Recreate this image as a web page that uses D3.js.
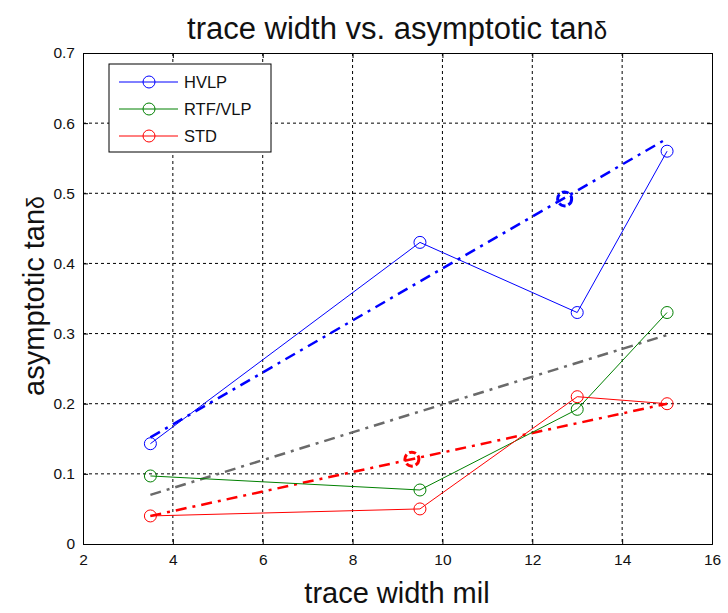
<!DOCTYPE html>
<html><head><meta charset="utf-8">
<script src="https://cdn.jsdelivr.net/npm/d3@7"></script>
<style>body{margin:0;background:#fff}svg{display:block}text{font-family:"Liberation Sans",Arial,sans-serif}</style>
</head><body><svg id="c" width="728" height="613"></svg>
<script>
const seriesNames = ["HVLP", "RTF/VLP", "STD"];
const seriesColors = ["#0000ff", "#008000", "#ff0000"];
const widths = [3.5, 9.5, 13, 15];
const hvlp = [0.143, 0.43, 0.33, 0.56];
const rtf = [0.097, 0.077, 0.192, 0.33];
const std = [0.040, 0.050, 0.210, 0.200];
const fitX = [3.5, 15];
const fitHvlp = [0.152, 0.578];
const fitRtf = [0.070, 0.298];
const fitStd = [0.040, 0.200];
const markHvlp = [12.72, 0.492];
const markStd = [9.32, 0.121];
const xTicks = [2, 4, 6, 8, 10, 12, 14, 16];
const yTicks = [0, 0.1, 0.2, 0.3, 0.4, 0.5, 0.6, 0.7];

const svg = d3.select("#c");
const L = 83, R = 712, T = 53, B = 544;
const x = d3.scaleLinear().domain([2, 16]).range([L, R]);
const y = d3.scaleLinear().domain([0, 0.7]).range([B, T]);

// grid
const g = svg.append("g");
g.selectAll(".gx").data(xTicks.slice(1, -1)).enter().append("line")
  .attr("x1", d => x(d)).attr("x2", d => x(d)).attr("y1", T).attr("y2", B)
  .attr("stroke", "#000").attr("stroke-width", 1).attr("stroke-dasharray", "3,3");
g.selectAll(".gy").data(yTicks.slice(1, -1)).enter().append("line")
  .attr("y1", d => y(d)).attr("y2", d => y(d)).attr("x1", L).attr("x2", R)
  .attr("stroke", "#000").attr("stroke-width", 1).attr("stroke-dasharray", "3,3");

// axes
const ax = d3.axisBottom(x).tickValues(xTicks).tickSize(-5).tickPadding(10).tickFormat(d3.format("d"));
const ay = d3.axisLeft(y).tickValues(yTicks).tickSize(-5).tickPadding(8).tickFormat(d => d === 0 ? "0" : d3.format(".1f")(d));
svg.append("g").attr("transform", `translate(0,${B})`).call(ax);
svg.append("g").attr("transform", `translate(${L},0)`).call(ay);
svg.append("g").attr("transform", `translate(0,${T})`).call(d3.axisTop(x).tickValues(xTicks).tickSize(-5).tickFormat(""));
svg.append("g").attr("transform", `translate(${R},0)`).call(d3.axisRight(y).tickValues(yTicks).tickSize(-5).tickFormat(""));
svg.selectAll(".domain").attr("stroke", "#000");
svg.selectAll(".tick line").attr("stroke", "#000");
svg.selectAll(".tick text").attr("font-size", 15.5).attr("fill", "#111")
  .attr("font-family", "'Liberation Sans',Arial,sans-serif");

// fit lines
const line = d3.line().x(d => x(d[0])).y(d => y(d[1]));
const fits = [[fitRtf, "#6a6a6a"], [fitStd, "#ff0000"], [fitHvlp, "#0000ff"]];
fits.forEach(([f, c]) => {
  svg.append("path").datum(fitX.map((v, i) => [v, f[i]])).attr("d", line)
    .attr("fill", "none").attr("stroke", c).attr("stroke-width", 2.5)
    .attr("stroke-dasharray", "11,6,3,6");
});

// series
const allSeries = [hvlp, rtf, std];
allSeries.forEach((s, k) => {
  const pts = widths.map((w, i) => [w, s[i]]);
  svg.append("path").datum(pts).attr("d", line).attr("fill", "none")
    .attr("stroke", seriesColors[k]).attr("stroke-width", 1);
  svg.selectAll(".m" + k).data(pts).enter().append("circle")
    .attr("cx", d => x(d[0])).attr("cy", d => y(d[1])).attr("r", 6)
    .attr("fill", "none").attr("stroke", seriesColors[k]).attr("stroke-width", 1);
});

// bold markers
[[markHvlp, "#0000ff"], [markStd, "#ff0000"]].forEach(([m, c]) => {
  svg.append("circle").attr("cx", x(m[0])).attr("cy", y(m[1])).attr("r", 7)
    .attr("fill", "none").attr("stroke", c).attr("stroke-width", 3)
    .attr("stroke-dasharray", "7,3");
});

// legend
const lg = svg.append("g");
lg.append("rect").attr("x", 109).attr("y", 64).attr("width", 162).attr("height", 88)
  .attr("fill", "#fff").attr("stroke", "#000").attr("stroke-width", 1);
seriesNames.forEach((n, i) => {
  const yy = 82 + i * 27;
  lg.append("line").attr("x1", 119).attr("x2", 178).attr("y1", yy).attr("y2", yy)
    .attr("stroke", seriesColors[i]).attr("stroke-width", 1);
  lg.append("circle").attr("cx", 149).attr("cy", yy).attr("r", 6)
    .attr("fill", "none").attr("stroke", seriesColors[i]);
  lg.append("text").attr("x", 184).attr("y", yy + 6).attr("font-size", 16.5).attr("fill", "#111").text(n);
});

// titles
const t = svg.append("text").attr("x", 397).attr("y", 39).attr("text-anchor", "middle")
  .attr("font-size", 31).attr("fill", "#111");
t.append("tspan").text("trace width vs. asymptotic tan");
t.append("tspan").attr("font-size", 24).text("δ");
svg.append("text").attr("x", 397).attr("y", 603).attr("text-anchor", "middle")
  .attr("font-size", 29).attr("fill", "#111").text("trace width mil");
const yl = svg.append("text").attr("transform", "translate(44,296) rotate(-90)").attr("text-anchor", "middle")
  .attr("font-size", 29).attr("fill", "#111");
yl.append("tspan").text("asymptotic tan");
yl.append("tspan").attr("font-size", 23).text("δ");
</script></body></html>
